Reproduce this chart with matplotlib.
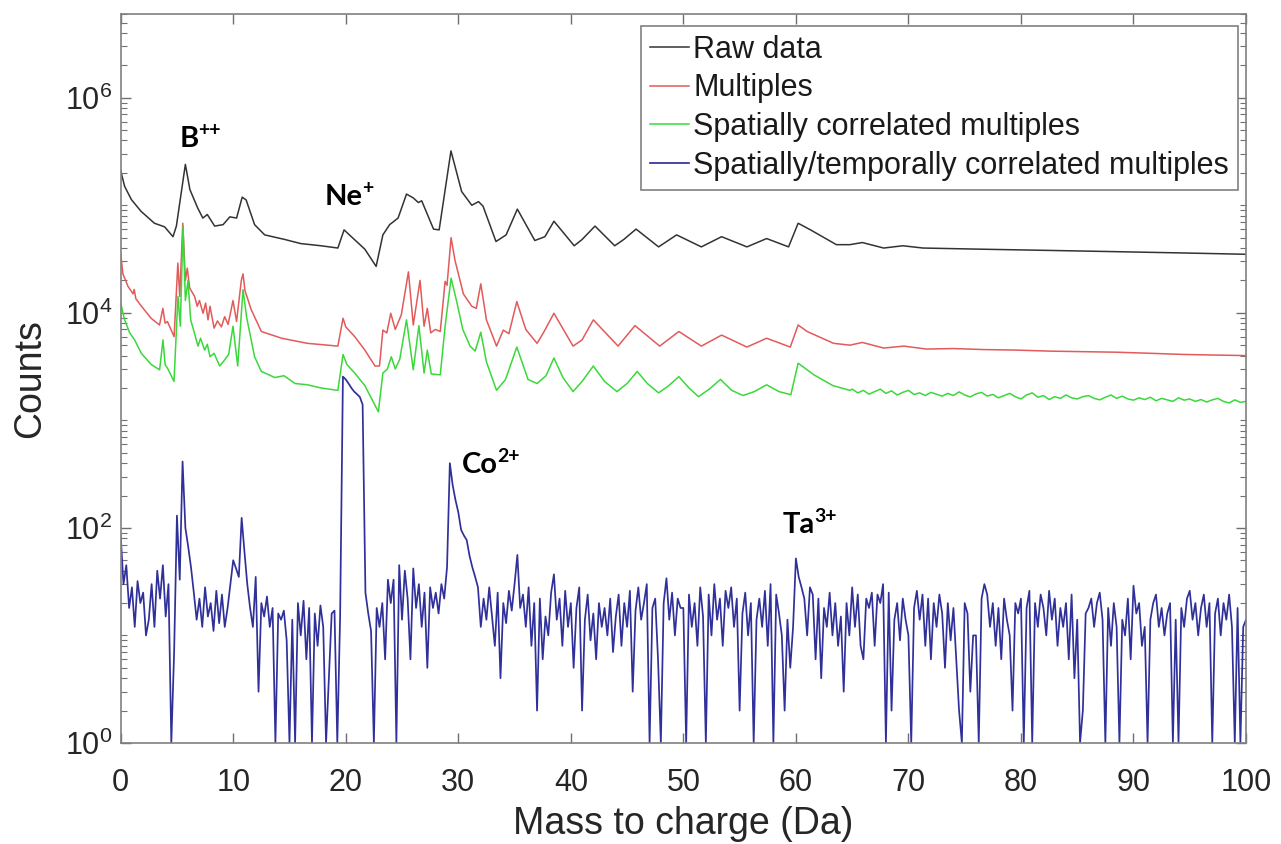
import matplotlib.pyplot as plt
import numpy as np
from matplotlib import ticker

plt.rcParams['font.family'] = ['Liberation Sans', 'DejaVu Sans']

# Raw data (black)
raw_mz = [0.0, 0.35, 0.95, 1.8, 3.0, 3.9, 4.65, 4.95, 5.75, 6.15,
          6.85, 7.3, 7.7, 8.35, 9.1, 9.7, 10.3, 10.8, 11.15, 11.9,
          12.8, 14.6, 16.0, 17.8, 19.3, 19.85, 20.5, 21.7, 22.7, 23.3,
          23.9, 24.65, 25.4, 26.0, 26.45, 26.75, 27.8, 28.3, 29.35, 30.3,
          31.2, 31.8, 32.2, 33.35, 34.25, 35.25, 36.8, 37.7, 38.5, 40.3,
          41.0, 42.15, 43.9, 44.7, 45.8, 47.8, 49.4, 51.6, 53.4, 55.65,
          57.4, 59.35, 60.2, 61.3, 63.6, 64.8, 65.9, 67.8, 69.5, 71.3,
          76.6, 82.6, 88.5, 94.4, 100.0]
raw_counts = [2.1e5, 1.5e5, 1.13e5, 8.8e4, 6.8e4, 6.3e4, 5.1e4, 6.4e4, 2.4e5, 1.4e5,
              9.4e4, 7.6e4, 8.2e4, 6.4e4, 6.6e4, 7.8e4, 7.6e4, 1.19e5, 1.12e5, 6.6e4,
              5.3e4, 4.8e4, 4.4e4, 4.2e4, 4.0e4, 5.9e4, 5.1e4, 3.9e4, 2.7e4, 5.3e4,
              6.6e4, 7.6e4, 1.27e5, 1.17e5, 1.06e5, 1.1e5, 6.0e4, 5.9e4, 3.2e5, 1.34e5,
              1.0e5, 1.08e5, 9.8e4, 4.6e4, 5.3e4, 9.2e4, 4.7e4, 5.1e4, 7.1e4, 4.2e4,
              4.8e4, 6.4e4, 4.2e4, 4.8e4, 6.0e4, 4.1e4, 5.3e4, 4.1e4, 5.1e4, 4.1e4,
              4.9e4, 4.1e4, 6.8e4, 5.9e4, 4.3e4, 4.3e4, 4.5e4, 4.0e4, 4.2e4, 4.0e4,
              3.9e4, 3.8e4, 3.7e4, 3.6e4, 3.5e4]

# Multiples (red)
mult_mz = [0.0, 0.2, 0.65, 1.1, 1.2, 1.35, 1.85, 2.7, 3.45, 3.75,
           3.95, 4.15, 4.75, 5.08, 5.25, 5.52, 5.75, 5.92, 6.13, 6.57,
           6.8, 7.0, 7.32, 7.55, 7.76, 7.94, 8.3, 8.6, 8.95, 9.24,
           9.55, 9.98, 10.3, 10.72, 10.87, 11.05, 11.6, 12.5, 14.3, 16.6,
           19.3, 19.76, 20.0, 20.8, 21.7, 22.6, 23.0, 23.3, 23.65, 24.0,
           24.4, 24.94, 25.57, 26.0, 26.6, 26.96, 27.25, 27.55, 27.95, 28.4,
           28.83, 29.0, 29.36, 29.7, 30.45, 31.2, 31.6, 32.0, 32.5, 33.4,
           34.0, 34.5, 35.2, 36.0, 37.0, 37.56, 38.5, 40.2, 41.0, 42.0,
           44.2, 45.7, 47.9, 49.6, 51.6, 53.4, 55.65, 57.4, 59.5, 60.2,
           61.0, 63.35, 64.8, 65.9, 67.8, 69.6, 71.6, 74.0, 76.7, 79.5,
           82.6, 85.5, 88.5, 91.5, 94.4, 97.0, 100.0]
mult_counts = [3.5e4, 2.3e4, 1.76e4, 1.5e4, 1.65e4, 1.35e4, 1.15e4, 8.9e3, 7.7e3, 1.1e4,
               8.0e3, 8.3e3, 6.0e3, 2.9e4, 1.42e4, 6.8e4, 2.0e4, 2.6e4, 1.7e4, 1.42e4,
               1.15e4, 1.3e4, 9.9e3, 1.23e4, 8.6e3, 1.15e4, 7.2e3, 8.4e3, 7.4e3, 9.2e3,
               7.8e3, 1.3e4, 8.3e3, 2.0e4, 2.3e4, 1.6e4, 1.07e4, 6.7e3, 5.8e3, 5.2e3,
               4.9e3, 8.9e3, 7.4e3, 6.0e3, 4.5e3, 3.2e3, 3.2e3, 6.9e3, 6.5e3, 9.9e3,
               7.0e3, 9.6e3, 2.4e4, 7.7e3, 2.0e4, 7.5e3, 1.1e4, 6.5e3, 7.0e3, 6.7e3,
               1.96e4, 1.8e4, 5.0e4, 3.1e4, 1.5e4, 1.15e4, 1.1e4, 1.86e4, 8.6e3, 4.9e3,
               6.9e3, 6.4e3, 1.27e4, 7.0e3, 5.2e3, 6.5e3, 9.9e3, 4.9e3, 5.6e3, 8.6e3,
               4.9e3, 7.6e3, 4.9e3, 6.7e3, 4.9e3, 6.2e3, 4.8e3, 5.8e3, 4.8e3, 7.7e3,
               6.7e3, 5.2e3, 5.0e3, 5.3e3, 4.7e3, 4.9e3, 4.6e3, 4.65e3, 4.55e3, 4.5e3,
               4.4e3, 4.35e3, 4.3e3, 4.2e3, 4.1e3, 4.05e3, 4.0e3]

# Spatially correlated multiples (green)
spat_mz = [0.0, 0.35, 0.8, 1.24, 1.83, 2.72, 3.46, 3.76, 3.95, 4.2,
           4.74, 5.09, 5.3, 5.54, 5.75, 5.98, 6.22, 6.5, 6.87, 7.1,
           7.46, 7.7, 7.94, 8.3, 8.8, 9.2, 9.6, 9.98, 10.4, 10.87,
           11.2, 11.9, 12.5, 13.7, 14.5, 15.5, 16.6, 17.8, 19.3, 19.76,
           20.1, 20.8, 21.7, 22.9, 23.3, 23.7, 24.05, 24.4, 24.8, 25.4,
           26.0, 26.5, 26.96, 27.25, 27.6, 28.4, 28.83, 29.36, 29.84, 30.4,
           31.05, 31.5, 32.0, 32.5, 33.4, 34.2, 35.2, 36.2, 37.0, 37.8,
           38.5, 39.3, 40.2, 41.0, 42.0, 43.0, 44.1, 45.0, 45.9, 46.8,
           47.8, 48.7, 49.6, 50.5, 51.35, 52.3, 53.3, 54.3, 55.3, 56.3,
           57.4, 58.5, 59.55, 60.2, 61.6, 63.3, 64.8,
           65.0, 65.5, 66.0, 66.5, 67.0, 67.5, 68.0, 68.5, 69.0, 69.5,
           70.0, 70.5, 71.0, 71.5, 72.0, 72.5, 73.0, 73.5, 74.0, 74.5,
           75.0, 75.5, 76.0, 76.5, 77.0, 77.5, 78.0, 78.5, 79.0, 79.5,
           80.0, 80.5, 81.0, 81.5, 82.0, 82.5, 83.0, 83.5, 84.0, 84.5,
           85.0, 85.5, 86.0, 86.5, 87.0, 87.5, 88.0, 88.5, 89.0, 89.5,
           90.0, 90.5, 91.0, 91.5, 92.0, 92.5, 93.0, 93.5, 94.0, 94.5,
           95.0, 95.5, 96.0, 96.5, 97.0, 97.5, 98.0, 98.5, 99.0, 99.5,
           100.0]
spat_counts = [1.23e4, 8.6e3, 6.5e3, 5.6e3, 4.2e3, 3.3e3, 2.95e3, 5.6e3, 3.3e3, 3.0e3,
               2.3e3, 1.42e4, 7.5e3, 6.4e4, 1.3e4, 2.0e4, 8.6e3, 6.8e3, 4.9e3, 5.8e3,
               4.5e3, 5.1e3, 3.9e3, 4.2e3, 3.2e3, 3.6e3, 4.1e3, 7.5e3, 3.2e3, 1.64e4,
               9.0e3, 3.9e3, 2.85e3, 2.5e3, 2.6e3, 2.2e3, 2.14e3, 2.0e3, 1.9e3, 4.1e3,
               3.3e3, 2.75e3, 2.1e3, 1.2e3, 2.75e3, 3.0e3, 3.9e3, 3.0e3, 3.7e3, 8.6e3,
               2.95e3, 7.6e3, 2.75e3, 4.5e3, 2.7e3, 2.65e3, 7.5e3, 2.1e4, 1.3e4, 7.0e3,
               4.9e3, 4.4e3, 6.6e3, 3.5e3, 1.9e3, 2.4e3, 4.8e3, 2.4e3, 2.2e3, 2.6e3,
               3.8e3, 2.5e3, 1.85e3, 2.3e3, 3.2e3, 2.3e3, 1.85e3, 2.2e3, 2.85e3, 2.2e3,
               1.8e3, 2.1e3, 2.55e3, 2.0e3, 1.66e3, 1.95e3, 2.4e3, 1.9e3, 1.7e3, 1.85e3,
               2.14e3, 1.85e3, 1.73e3, 3.4e3, 2.65e3, 2.1e3, 1.9e3,
               1.95e3, 1.8e3, 1.9e3, 1.75e3, 1.85e3, 1.95e3, 1.78e3, 1.88e3, 1.72e3, 1.82e3,
               1.9e3, 1.74e3, 1.8e3, 1.7e3, 1.82e3, 1.75e3, 1.68e3, 1.78e3, 1.7e3, 1.84e3,
               1.72e3, 1.65e3, 1.76e3, 1.82e3, 1.68e3, 1.74e3, 1.62e3, 1.7e3, 1.78e3, 1.66e3,
               1.58e3, 1.72e3, 1.8e3, 1.64e3, 1.7e3, 1.56e3, 1.66e3, 1.6e3, 1.72e3, 1.62e3,
               1.58e3, 1.66e3, 1.7e3, 1.6e3, 1.55e3, 1.64e3, 1.72e3, 1.6e3, 1.68e3, 1.58e3,
               1.54e3, 1.62e3, 1.56e3, 1.64e3, 1.52e3, 1.6e3, 1.55e3, 1.5e3, 1.62e3, 1.54e3,
               1.58e3, 1.5e3, 1.56e3, 1.48e3, 1.55e3, 1.6e3, 1.5e3, 1.45e3, 1.55e3, 1.47e3,
               1.5e3]

# Spatially/temporally correlated multiples (blue), one value every 0.25 Da
temp_counts = [
    85, 30, 45, 18, 28, 12, 32, 20, 25, 10, 14, 30, 12, 40, 22, 45, 15, 30, 1, 7,
    130, 33, 414, 100, 67, 43, 25, 14, 22, 12, 28, 15, 20, 11, 26, 13, 24, 12, 18, 30,
    50, 42, 35, 124, 60, 30, 18, 12, 35, 3, 20, 15, 23, 12, 18, 1, 16, 14, 17, 9,
    1, 14, 1, 20, 10, 21, 6, 18, 1, 16, 8, 19, 12, 1, 4, 16, 17, 1, 15, 2550,
    2400, 2200, 2000, 1850, 1750, 1650, 1400, 25, 16, 11, 1, 18, 12, 20, 6, 33, 20, 33, 1, 45,
    14, 40, 22, 6, 42, 18, 30, 12, 25, 5, 28, 18, 25, 16, 30, 22, 43, 400, 250, 182,
    140, 96, 85, 77, 55, 43, 35, 28, 12, 22, 14, 28, 15, 8, 25, 4, 20, 13, 26, 17,
    30, 56, 18, 24, 12, 28, 8, 20, 2, 22, 6, 15, 10, 25, 37, 14, 22, 8, 26, 12,
    20, 5, 18, 28, 2, 14, 24, 9, 16, 6, 20, 12, 18, 10, 22, 7, 15, 24, 8, 20,
    12, 26, 3, 17, 28, 14, 20, 30, 1, 18, 22, 6, 1, 20, 34, 14, 25, 10, 22, 18,
    18, 1, 24, 12, 20, 8, 28, 15, 1, 24, 10, 30, 14, 22, 8, 26, 18, 28, 12, 22,
    2, 16, 25, 10, 20, 1, 14, 22, 12, 26, 8, 30, 1, 24, 16, 10, 2, 14, 5, 12,
    52, 35, 28, 22, 10, 28, 24, 6, 22, 4, 18, 12, 25, 10, 20, 8, 15, 3, 20, 10,
    28, 12, 24, 8, 6, 22, 18, 25, 8, 24, 20, 30, 1, 25, 2, 14, 20, 9, 22, 14,
    10, 1, 18, 26, 14, 24, 8, 22, 6, 20, 12, 24, 16, 5, 20, 9, 18, 6, 2, 1,
    20, 16, 3, 10, 10, 1, 22, 30, 24, 12, 20, 8, 18, 6, 22, 14, 10, 2, 20, 16,
    22, 1, 18, 26, 1, 20, 12, 24, 18, 10, 26, 14, 22, 8, 18, 12, 20, 6, 24, 4,
    14, 1, 2, 16, 18, 22, 12, 20, 25, 14, 1, 18, 8, 20, 12, 1, 14, 10, 22, 6,
    29, 16, 20, 8, 12, 1, 14, 20, 24, 12, 18, 10, 16, 20, 1, 14, 1, 18, 12, 22,
    26, 14, 20, 10, 18, 24, 12, 20, 1, 16, 22, 10, 20, 14, 24, 12, 1, 18, 1, 12,
    14]
temp_mz = np.linspace(0, 100, len(temp_counts))

# Peak labels (ion name, charge superscript, position)
peak_names = ['B', 'Ne', 'Co', 'Ta']
peak_charges = ['++', '+', '2+', '3+']
peak_x = [5.27, 18.16, 30.3, 58.8]
peak_y = [3.5e5, 1.0e5, 325, 90]

fig = plt.figure(figsize=(12.81, 8.44), dpi=100)
ax = fig.add_axes([0.0942, 0.1197, 0.8785, 0.8637])

ax.plot(raw_mz, raw_counts, color='#333333', lw=1.1, label='Raw data')
ax.plot(mult_mz, mult_counts, color='#e25a5a', lw=1.1, label='Multiples')
ax.plot(spat_mz, spat_counts, color='#3bd83b', lw=1.1, label='Spatially correlated multiples')
ax.plot(temp_mz, temp_counts, color='#30309a', lw=1.25,
        label='Spatially/temporally correlated multiples')

ax.set_yscale('log')
ax.set_xlim(0, 100)
ax.set_ylim(1, 6e6)
ax.set_xticks(np.arange(0, 101, 10))

# only ticks inside the visible range
major_y = [1e0, 1e2, 1e4, 1e6]
minor_y = [k * 10.0 ** e for e in range(0, 7) for k in range(1, 10)
           if k * 10.0 ** e <= 6e6 and k * 10.0 ** e not in major_y]
ax.yaxis.set_major_locator(ticker.FixedLocator(major_y))
ax.yaxis.set_minor_locator(ticker.FixedLocator(minor_y))
ax.yaxis.set_minor_formatter(ticker.NullFormatter())
ax.yaxis.set_major_formatter(ticker.FuncFormatter(
    lambda v, pos: r'$\mathdefault{10^{%d}}$' % int(round(np.log10(v)))))

for s in ax.spines.values():
    s.set_color('#808080')
    s.set_linewidth(1.2)
ax.tick_params(which='both', direction='in', top=True, right=True, color='#707070')
ax.tick_params(which='major', length=7, width=1.0)
ax.tick_params(which='minor', length=4, width=0.8)
ax.tick_params(axis='x', labelsize=22, pad=18, labelcolor='#262626')
ax.tick_params(axis='y', labelsize=22, pad=6, labelcolor='#262626')

ax.set_xlabel('Mass to charge (Da)', fontsize=27, color='#262626', labelpad=6)
ax.set_ylabel('Counts', fontsize=27, color='#262626', labelpad=12)

leg = ax.legend(loc='upper right', bbox_to_anchor=(0.993, 0.984), borderaxespad=0,
                fontsize=22, frameon=True, fancybox=False, framealpha=1,
                edgecolor='#808080', handlelength=1.25, handletextpad=0.15,
                labelspacing=0.28, borderpad=0.3)
leg.get_frame().set_linewidth(1.2)
for t in leg.get_texts():
    t.set_color('#1a1a1a')

# ion labels: name, then charge as a small raised text right after it
lab_font = ['Lato', 'DejaVu Sans']
fig.canvas.draw()
renderer = fig.canvas.get_renderer()
for name, charge, px, py in zip(peak_names, peak_charges, peak_x, peak_y):
    t = ax.text(px, py, name, fontsize=21, fontweight='bold', family=lab_font,
                ha='left', va='baseline', color='black')
    w = t.get_window_extent(renderer).width * 72.0 / fig.dpi
    ax.annotate(charge, xy=(px, py), xytext=(w - 0.5, 8), textcoords='offset points',
                fontsize=14, fontweight='bold', family=lab_font,
                ha='left', va='baseline', color='black')

fig.savefig('out.png', dpi=100)
